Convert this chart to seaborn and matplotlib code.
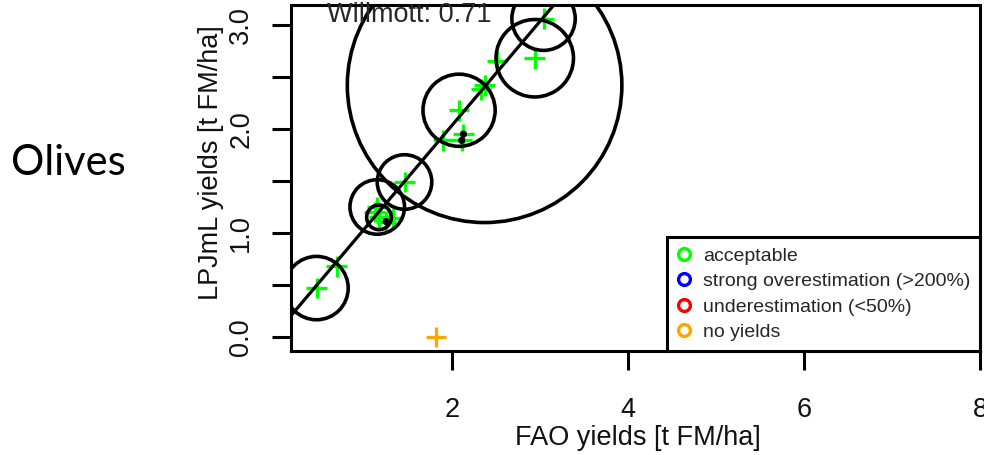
import matplotlib
matplotlib.use("Agg")
import matplotlib.pyplot as plt
from matplotlib.lines import Line2D
import seaborn as sns
import pandas as pd

# ============ Data ============
fao_yield = [0.46, 0.69, 1.15, 1.12, 1.17, 1.33, 1.25, 1.46, 1.90, 2.13, 2.11,
             2.08, 2.37, 2.33, 2.51, 2.94, 3.04, 1.82]
lpjml_yield = [0.47, 0.68, 1.25, 1.20, 1.15, 1.14, 1.11, 1.49, 1.89, 1.95, 1.89,
               2.18, 2.42, 2.38, 2.65, 2.68, 3.06, 0.00]
status = ["acceptable"] * 17 + ["no yields"]
# radius of the area circle around each point, in FAO-yield units (0 = none)
circle_radius = [0.36, 0, 0.31, 0, 0.14, 0, 0.02, 0.31, 0, 0.02, 0.02,
                 0.41, 1.56, 0, 0, 0.44, 0.36, 0]

fit_intercept = 0.035
fit_slope = 1.0
willmott = 0.71

legend_labels = ["acceptable", "strong overestimation (>200%)",
                 "underestimation (<50%)", "no yields"]
legend_colors = ["#00FF00", "#0000FF", "#FF0000", "#FFA500"]

x_ticks = [2, 4, 6, 8]
y_ticks = [0.0, 0.5, 1.0, 1.5, 2.0, 2.5, 3.0]
y_ticklabels = ["0.0", "", "1.0", "", "2.0", "", "3.0"]

crop_name = "Olives"

# ============ Plot ============
sns.set_style("ticks")
plt.rcParams["font.family"] = ["Liberation Sans", "DejaVu Sans"]
FS = 19.5

df = pd.DataFrame({"fao": fao_yield, "lpjml": lpjml_yield,
                   "status": status, "r": circle_radius})
palette = dict(zip(legend_labels, legend_colors))

fig = plt.figure(figsize=(9.84, 4.55), dpi=100)
W, H = 984, 455
ax = fig.add_axes([291 / W, (H - 351) / H, 689 / W, 346 / H])
ax.set_xlim(0.17, 8.0)
ax.set_ylim(-0.135, 3.192)

sns.scatterplot(data=df, x="fao", y="lpjml", hue="status", palette=palette,
                marker="+", s=220, linewidth=2.4, legend=False, ax=ax, zorder=3)

ax.axline((0, fit_intercept), slope=fit_slope, color="black", lw=2.3, zorder=4)

# circles sized in x-data units -> points
px_per_unit = fig.dpi * ax.get_position().width * fig.get_figwidth() / (8.0 - 0.17)
circ = df[df["r"] > 0]
sizes = (2 * circ["r"] * px_per_unit * 72 / fig.dpi) ** 2
ax.scatter(circ["fao"], circ["lpjml"], s=sizes, facecolors="none",
           edgecolors="black", linewidths=2.6, zorder=5)

ax.text(0.052, 0.971, f"Willmott: {willmott}", transform=ax.transAxes,
        fontsize=FS, ha="left", va="center", zorder=6)

for sp in ax.spines.values():
    sp.set_visible(True)
    sp.set_linewidth(2.2)
    sp.set_color("black")

ax.set_xticks(x_ticks)
ax.set_xticklabels([str(t) for t in x_ticks])
ax.set_yticks(y_ticks)
ax.set_yticklabels(y_ticklabels, rotation=90, va="center")
ax.tick_params(axis="both", direction="out", length=13.5, width=2.2,
               color="black", labelsize=FS, labelcolor="#111111")
ax.tick_params(axis="x", pad=19.5)
ax.tick_params(axis="y", pad=13)

ax.set_xlabel("FAO yields [t FM/ha]", fontsize=FS, color="#111111")
ax.set_ylabel("LPJmL yields [t FM/ha]", fontsize=FS, color="#111111")
ax.xaxis.label.set_va("center")
ax.yaxis.label.set_va("center")
ax.xaxis.set_label_coords(0.504, -0.251)
ax.yaxis.set_label_coords(-0.1155, 0.543)

handles = [Line2D([], [], linestyle="none", marker="o", markersize=8.5,
                  markerfacecolor="none", markeredgecolor=c, markeredgewidth=2.4)
           for c in legend_colors]
leg = ax.legend(handles, legend_labels, loc="lower right", bbox_to_anchor=(1, 0),
                borderaxespad=0, frameon=True, fancybox=False, framealpha=1,
                fontsize=14, handlelength=0.8, handletextpad=0.55,
                labelspacing=0.41, borderpad=0.5)
leg.get_frame().set_edgecolor("black")
leg.get_frame().set_linewidth(2.2)
leg.set_zorder(7)

fig.text(68 / W, 1 - 163 / H, crop_name, fontfamily="Lato", fontsize=30,
         ha="center", va="center", color="black")

fig.savefig("out.png", dpi=100)
